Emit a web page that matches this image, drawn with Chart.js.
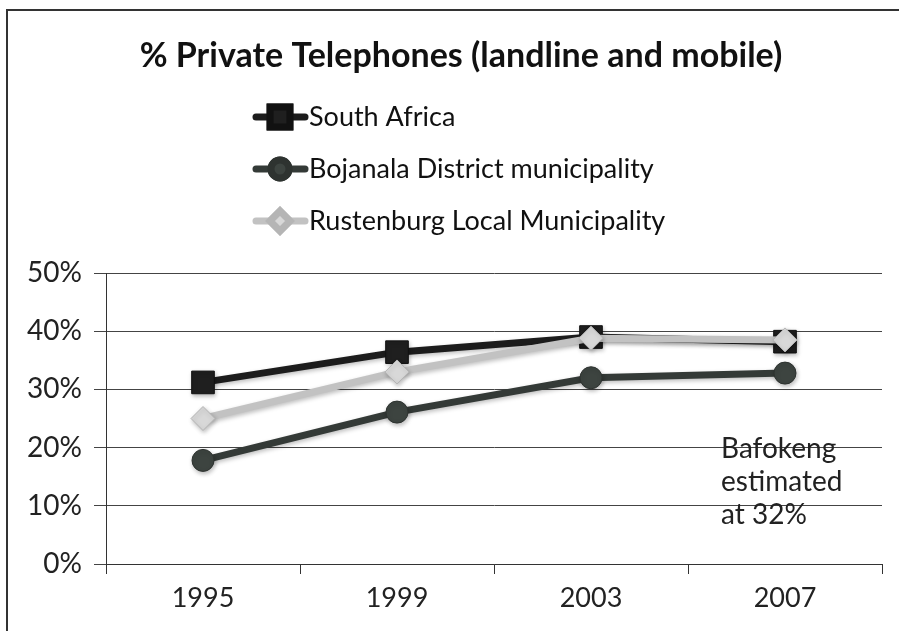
<!DOCTYPE html>
<html>
<head>
<meta charset="utf-8">
<title>% Private Telephones</title>
<script src="https://cdn.jsdelivr.net/npm/chart.js@4.4.1/dist/chart.umd.min.js"></script>
<style>
  body { margin: 0; background: #fff; }
  canvas { display: block; }
</style>
</head>
<body>
<canvas id="phones" width="899" height="631"></canvas>
<script>
// survey years and share of households with a private phone (%)
var years = ['1995', '1999', '2003', '2007'];
var southAfrica = [31.2, 36.4, 39.0, 38.2];
var bojanala = [17.8, 26.1, 32.0, 32.8];
var rustenburg = [25.0, 33.0, 38.8, 38.5];
var yTicks = [0, 10, 20, 30, 40, 50];

var FONT = 'Lato, "Open Sans", sans-serif';

// frame, title, stacked legend and the Bafokeng note
var decorations = {
    id: 'decorations',
    beforeDraw: function(chart) {
        var ctx = chart.ctx;
        ctx.save();
        ctx.fillStyle = '#fff';
        ctx.fillRect(0, 0, chart.width, chart.height);
        ctx.strokeStyle = '#333';
        ctx.lineWidth = 2;
        ctx.strokeRect(7, 10, chart.width + 20, chart.height + 20);
        ctx.restore();
    },
    afterDraw: function(chart) {
        var ctx = chart.ctx;
        ctx.save();
        ctx.fillStyle = '#111';
        ctx.textBaseline = 'middle';
        ctx.textAlign = 'center';
        ctx.font = 'bold 34px ' + FONT;
        ctx.fillText('% Private Telephones (landline and mobile)', 461, 56);

        // legend, one entry per row
        ctx.textAlign = 'left';
        ctx.font = '27px ' + FONT;
        chart.data.datasets.forEach(function(ds, i) {
            var y = 117 + i * 52;
            ctx.strokeStyle = ds.borderColor;
            ctx.lineWidth = 7;
            ctx.lineCap = 'round';
            ctx.beginPath();
            ctx.moveTo(256, y);
            ctx.lineTo(305, y);
            ctx.stroke();
            Chart.helpers.drawPoint(ctx, {
                pointStyle: ds.pointStyle,
                radius: ds.pointRadius - 2,
                borderWidth: 1
            }, 280, y);
            ctx.fillStyle = ds.pointBackgroundColor;
            ctx.strokeStyle = ds.pointBorderColor;
            ctx.fill();
            ctx.stroke();
            ctx.fillStyle = '#111';
            ctx.fillText(ds.label, 309, y);
        });

        // note next to the 2007 points
        var x = chart.scales.x.getPixelForValue(3) - 64;
        var y0 = chart.scales.y.getPixelForValue(20) + 1;
        ctx.font = '28px ' + FONT;
        ctx.fillStyle = '#222';
        ['Bafokeng', 'estimated', 'at 32%'].forEach(function(t, i) {
            ctx.fillText(t, x, y0 + i * 33);
        });
        ctx.restore();
    }
};

// soft drop shadow under the series, as in the office-style chart
var seriesShadow = {
    id: 'seriesShadow',
    beforeDatasetsDraw: function(chart) {
        var ctx = chart.ctx;
        ctx.save();
        ctx.shadowColor = 'rgba(0,0,0,0.25)';
        ctx.shadowBlur = 4;
        ctx.shadowOffsetX = 1;
        ctx.shadowOffsetY = 2;
    },
    afterDatasetsDraw: function(chart) {
        chart.ctx.restore();
    }
};

new Chart(document.getElementById('phones'), {
    type: 'line',
    data: {
        labels: years,
        datasets: [
            {
                label: 'South Africa',
                data: southAfrica,
                borderColor: '#1c1c1c',
                pointBackgroundColor: '#1f1f1f',
                pointBorderColor: '#111',
                pointStyle: 'rect',
                pointRadius: 16,
                order: 2
            },
            {
                label: 'Bojanala District municipality',
                data: bojanala,
                borderColor: '#343a37',
                pointBackgroundColor: '#3d4440',
                pointBorderColor: '#2e3330',
                pointStyle: 'circle',
                pointRadius: 11,
                order: 1
            },
            {
                label: 'Rustenburg Local Municipality',
                data: rustenburg,
                borderColor: '#c2c2c2',
                pointBackgroundColor: '#d8d8d8',
                pointBorderColor: '#b5b5b5',
                pointStyle: 'rectRot',
                pointRadius: 12,
                order: 0
            }
        ]
    },
    options: {
        responsive: false,
        animation: false,
        devicePixelRatio: 1,
        layout: { padding: { top: 273, left: 0, right: 12, bottom: 0 } },
        elements: {
            line: { borderWidth: 7, tension: 0 },
            point: { borderWidth: 1 }
        },
        plugins: {
            legend: { display: false },
            title: { display: false },
            tooltip: { enabled: false }
        },
        scales: {
            x: {
                offset: true,
                grid: {
                    offset: true,
                    drawOnChartArea: false,
                    drawTicks: true,
                    tickLength: 10,
                    color: '#333'
                },
                border: { color: '#333', width: 1 },
                ticks: {
                    color: '#222',
                    padding: 8,
                    font: { family: FONT, size: 27 }
                },
                afterFit: function(scale) { scale.height = 67; }
            },
            y: {
                min: 0,
                max: 50,
                afterBuildTicks: function(scale) {
                    scale.ticks = yTicks.map(function(v) { return { value: v }; });
                },
                grid: {
                    color: '#444',
                    tickLength: 12
                },
                border: { color: '#333', width: 1 },
                ticks: {
                    color: '#222',
                    padding: 12,
                    font: { family: FONT, size: 28 },
                    callback: function(v) { return v + '%'; }
                },
                afterFit: function(scale) { scale.width = 106; }
            }
        }
    },
    plugins: [decorations, seriesShadow]
});
</script>
</body>
</html>
